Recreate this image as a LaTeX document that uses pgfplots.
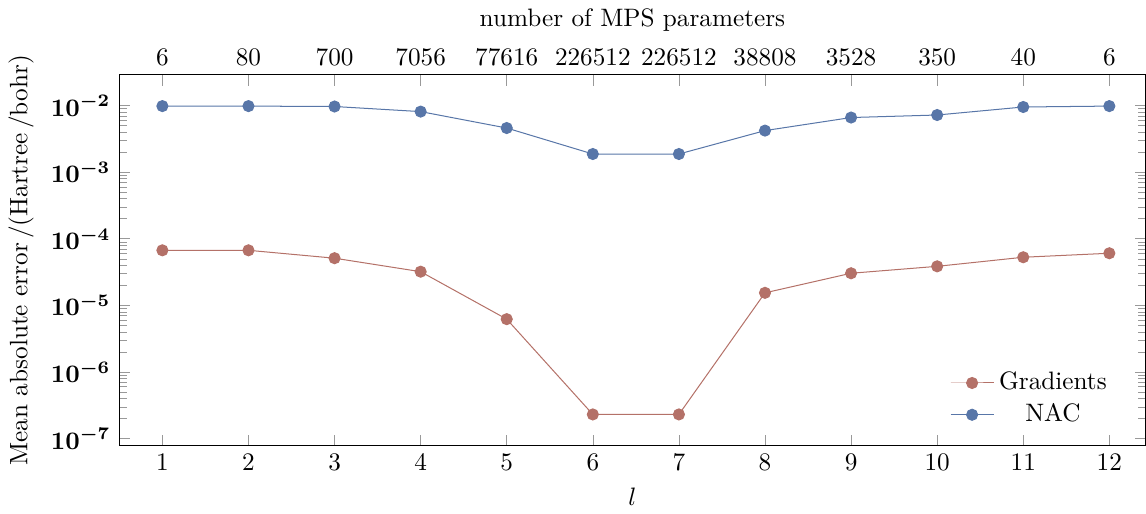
\documentclass[border=0pt]{standalone}
\usepackage{pgfplots}
\pgfplotsset{compat=1.18}
\definecolor{gradc}{RGB}{180,113,104}
\definecolor{nacc}{RGB}{88,118,168}
\begin{document}
\begin{tikzpicture}
\begin{axis}[
  scale only axis,
  width=407pt, height=147pt,
  xmin=0.5, xmax=12.42,
  ymode=log, ymin=7.85e-8, ymax=0.0288,
  xtick={1,...,12},
  xtick pos=bottom,
  ytick={1e-7,1e-6,1e-5,1e-4,1e-3,1e-2},
  yticklabel style={font=\boldmath},
  tick style={gray!80},
  xlabel={$l$},
  ylabel={Mean absolute error\,/(Hartree\,/bohr)},
  legend cell align=center,
  legend style={at={(0.975,0.025)}, anchor=south east, draw=none, fill=none},
]
\addplot[gradc, mark=*, mark size=2.2pt, mark options={solid,fill=gradc,draw=gradc}] coordinates {
(1,6.7e-5) (2,6.7e-5) (3,5.1e-5) (4,3.2e-5) (5,6.2e-6) (6,2.3e-7)
(7,2.3e-7) (8,1.54e-5) (9,3.03e-5) (10,3.85e-5) (11,5.27e-5) (12,6.05e-5)};
\addlegendentry{Gradients}
\addplot[nacc, mark=*, mark size=2.2pt, mark options={solid,fill=nacc,draw=nacc}] coordinates {
(1,9.8e-3) (2,9.8e-3) (3,9.66e-3) (4,8.1e-3) (5,4.59e-3) (6,1.87e-3)
(7,1.87e-3) (8,4.2e-3) (9,6.6e-3) (10,7.2e-3) (11,9.5e-3) (12,9.8e-3)};
\addlegendentry{NAC}
\end{axis}
\begin{axis}[
  scale only axis,
  width=407pt, height=147pt,
  xmin=0.5, xmax=12.42,
  ymin=0, ymax=1,
  axis x line*=top,
  axis y line=none,
  xtick={1,...,12},
  xticklabels={6,80,700,7056,77616,226512,226512,38808,3528,350,40,6},
  tick style={gray!80},
  xlabel={number of MPS parameters},
]
\addplot[draw=none] coordinates {(1,0.5)};
\end{axis}
\end{tikzpicture}
\end{document}
